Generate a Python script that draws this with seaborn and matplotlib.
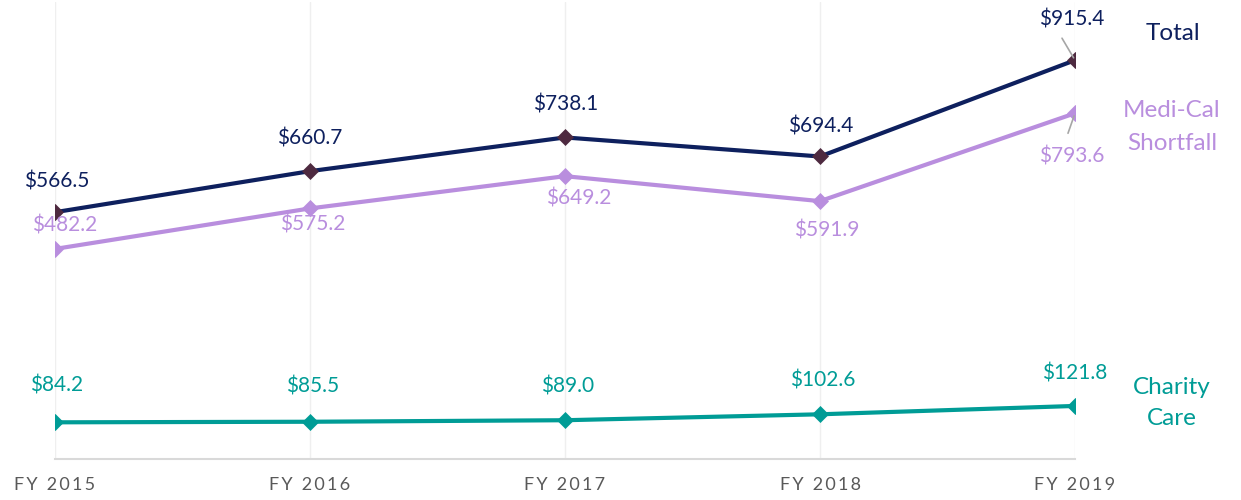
import pandas as pd
import seaborn as sns
import matplotlib.pyplot as plt

years = ["FY 2015", "FY 2016", "FY 2017", "FY 2018", "FY 2019"]
total = [566.5, 660.7, 738.1, 694.4, 915.4]
medical = [482.2, 575.2, 649.2, 591.9, 793.6]
charity = [84.2, 85.5, 89.0, 102.6, 121.8]

navy = "#0E205E"
lavender = "#B98EDE"
teal = "#009C96"
maroon = "#4E2A40"

sns.set_theme(style="white")
plt.rcParams["font.family"] = ["Lato", "DejaVu Sans"]

rows = []
for name, vals in [("Total", total), ("Medi-Cal Shortfall", medical), ("Charity Care", charity)]:
    for i, v in enumerate(vals):
        rows.append({"idx": i, "value": v, "series": name})
df = pd.DataFrame(rows)

fig = plt.figure(figsize=(12.41, 5), dpi=100)
ax = fig.add_axes([55 / 1241, 41 / 500, 1020 / 1241, 457 / 500])

styles = {
    "Total": (navy, maroon),
    "Medi-Cal Shortfall": (lavender, lavender),
    "Charity Care": (teal, teal),
}
for name, (lc, mc) in styles.items():
    sns.lineplot(data=df[df["series"] == name], x="idx", y="value", ax=ax,
                 color=lc, linewidth=3.0, marker="D", markersize=8.5,
                 markerfacecolor=mc, markeredgecolor=mc, markeredgewidth=0.5,
                 zorder=3)

ax.set_xlim(0, 4)
ax.set_ylim(0, 1049)
ax.set_xticks(range(len(years)))
# letter-spaced tick labels, like the original
spaced = ["\u2009".join(y) for y in years]
ax.set_xticklabels(spaced, color="#595959", fontsize=13)
ax.tick_params(axis="x", length=0, pad=13)
ax.set_yticks([])
ax.set_xlabel("")
ax.set_ylabel("")
for s in ["top", "right", "left"]:
    ax.spines[s].set_visible(False)
ax.spines["bottom"].set_color("#D9D9D9")
ax.spines["bottom"].set_linewidth(1.5)
ax.grid(axis="x", color="#EFEFEF", linewidth=1)
ax.set_axisbelow(True)

# data labels (offsets in pixels -> points)
px = 0.72
tot_off = [(2, 31), (0, 33), (1, 33), (1, 30), (-3, 41)]
med_off = [(10, 23), (3, -16), (14, -22), (7, -29), (-3, -43)]
cha_off = [(2, 37), (3, 35), (3, 34), (3, 34), (0, 32)]
fs = 15

for i, v in enumerate(total):
    dx, dy = tot_off[i]
    ax.annotate(f"${v:.1f}", (i, v), xytext=(dx * px, dy * px), textcoords="offset points",
                ha="center", va="center", color=navy, fontsize=fs, clip_on=False)
for i, v in enumerate(medical):
    dx, dy = med_off[i]
    ax.annotate(f"${v:.1f}", (i, v), xytext=(dx * px, dy * px), textcoords="offset points",
                ha="center", va="center", color=lavender, fontsize=fs, clip_on=False)
for i, v in enumerate(charity):
    dx, dy = cha_off[i]
    ax.annotate(f"${v:.1f}", (i, v), xytext=(dx * px, dy * px), textcoords="offset points",
                ha="center", va="center", color=teal, fontsize=fs, clip_on=False)

# leader lines on last points
ax.annotate("", (4, total[4]), xytext=(-13 * px, 22 * px), textcoords="offset points",
            arrowprops=dict(arrowstyle="-", color="#A6A6A6", lw=1.2, shrinkA=0, shrinkB=2))
ax.annotate("", (4, medical[4]), xytext=(-7 * px, -20 * px), textcoords="offset points",
            arrowprops=dict(arrowstyle="-", color="#A6A6A6", lw=1.2, shrinkA=0, shrinkB=2))

# series names on the right
fig.text(1173 / 1241, 1 - 33 / 500, "Total", color=navy, fontsize=17.5, ha="center", va="center")
fig.text(1172 / 1241, 1 - 127 / 500, "Medi-Cal\nShortfall", color=lavender, fontsize=17.5,
         ha="center", va="center", linespacing=1.7)
fig.text(1172 / 1241, 1 - 403 / 500, "Charity\nCare", color=teal, fontsize=17.5,
         ha="center", va="center", linespacing=1.6)

fig.savefig("out.png", dpi=100)
